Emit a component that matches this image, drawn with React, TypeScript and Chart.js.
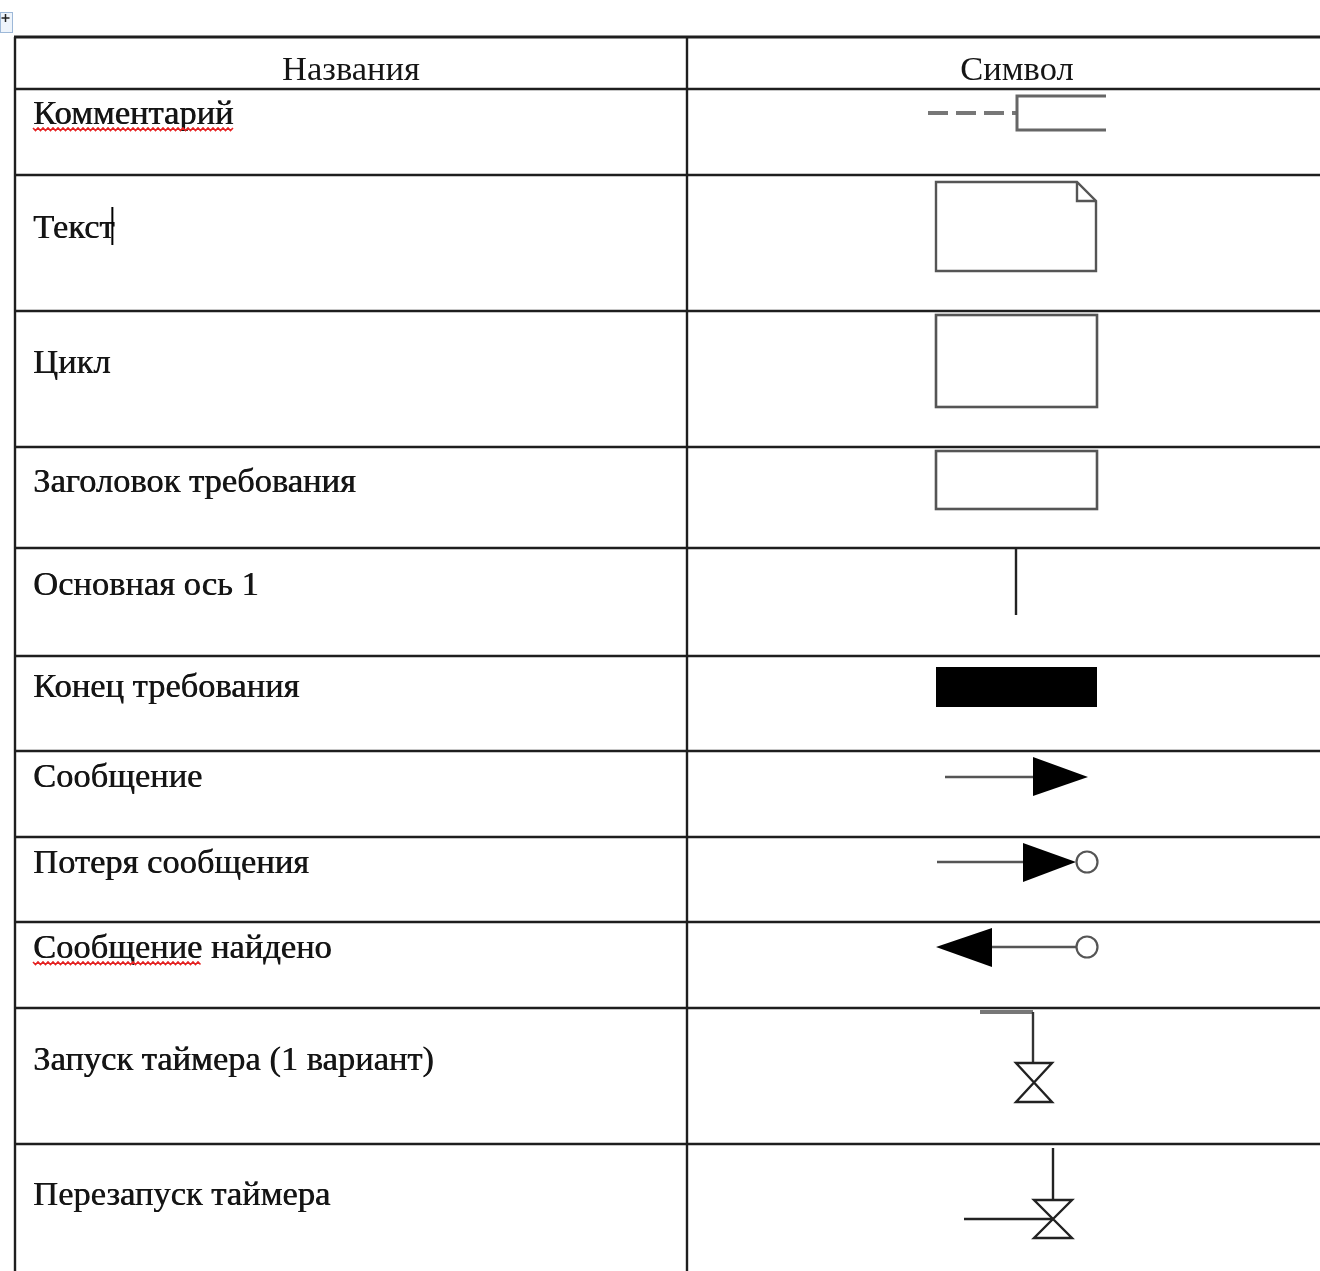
import React, { useEffect, useRef } from "react";
import { Chart, registerables } from "chart.js";

Chart.register(...registerables);

// ---- data ----
const WIDTH = 1320;
const HEIGHT = 1271;
const columnEdges = [15, 687, 1347];
const rowEdges = [37, 89, 175, 311, 447, 548, 656, 751, 837, 922, 1008, 1144, 1300];
const headers = ["Названия", "Символ"];
const headerBaseline = 80;
const rowNames = [
  "Комментарий",
  "Текст",
  "Цикл",
  "Заголовок требования",
  "Основная ось 1",
  "Конец требования",
  "Сообщение",
  "Потеря сообщения",
  "Сообщение найдено",
  "Запуск таймера (1 вариант)",
  "Перезапуск таймера",
];
const rowBaselines = [124, 238, 373, 492, 595, 697, 787, 873, 958, 1070, 1205];
const symbolKinds = [
  "comment",
  "note",
  "cycle",
  "header",
  "axis",
  "end",
  "message",
  "lost",
  "found",
  "timerStart",
  "timerRestart",
];
// spell-check underlines: [row index, number of leading characters]
const spellMarks: [number, number][] = [
  [0, 11],
  [8, 9],
];
const cursorRow = 1;

type Prim =
  | { t: "line"; pts: number[][]; dash?: number[]; w?: number; color?: string; close?: boolean }
  | { t: "poly"; pts: number[][]; fill: boolean }
  | { t: "rect"; x: number; y: number; w: number; h: number; fill?: boolean }
  | { t: "circle"; x: number; y: number; r: number };

const symbolShapes: Record<string, Prim[]> = {
  comment: [
    { t: "line", pts: [[928, 113], [1017, 113]], dash: [20, 8], w: 4, color: "#777" },
    { t: "line", pts: [[1106, 96], [1017, 96], [1017, 130], [1106, 130]], w: 3, color: "#666" },
  ],
  note: [
    { t: "line", pts: [[936, 182], [1077, 182], [1096, 201], [1096, 271], [936, 271]], close: true },
    { t: "line", pts: [[1077, 182], [1077, 201], [1096, 201]] },
  ],
  cycle: [{ t: "rect", x: 936, y: 315, w: 161, h: 92 }],
  header: [{ t: "rect", x: 936, y: 451, w: 161, h: 58 }],
  axis: [{ t: "line", pts: [[1016, 549], [1016, 615]], color: "#222" }],
  end: [{ t: "rect", x: 936, y: 667, w: 161, h: 40, fill: true }],
  message: [
    { t: "line", pts: [[945, 777], [1034, 777]], w: 2.6 },
    { t: "poly", pts: [[1033, 757], [1088, 777], [1033, 796]], fill: true },
  ],
  lost: [
    { t: "line", pts: [[937, 862], [1024, 862]], w: 2.6 },
    { t: "poly", pts: [[1023, 843], [1076, 862], [1023, 882]], fill: true },
    { t: "circle", x: 1087, y: 862, r: 10.5 },
  ],
  found: [
    { t: "poly", pts: [[936, 947], [992, 928], [992, 967]], fill: true },
    { t: "line", pts: [[992, 947], [1076, 947]], w: 2.6 },
    { t: "circle", x: 1087, y: 947, r: 10.5 },
  ],
  timerStart: [
    { t: "line", pts: [[980, 1012], [1033, 1012]], w: 4, color: "#777" },
    { t: "line", pts: [[1033, 1012], [1033, 1063]], color: "#333" },
    { t: "line", pts: [[1016, 1063], [1052, 1063], [1016, 1102], [1052, 1102]], close: true, color: "#222" },
  ],
  timerRestart: [
    { t: "line", pts: [[1053, 1148], [1053, 1200]], color: "#222" },
    { t: "line", pts: [[1034, 1200], [1072, 1200], [1034, 1238], [1072, 1238]], close: true, color: "#222" },
    { t: "line", pts: [[964, 1219], [1053, 1219]], color: "#222" },
  ],
};

const TEXT_FONT = '34.5px "Liberation Serif", "Times New Roman", serif';
const TEXT_COLOR = "#151515";
const TABLE_COLOR = "#1e1e1e";
const SYMBOL_COLOR = "#555";

const tablePlugin = {
  id: "tablePlugin",
  afterDraw(chart: any) {
    const ctx: CanvasRenderingContext2D = chart.ctx;
    const xs = chart.scales.x;
    const ys = chart.scales.y;
    const X = (v: number) => xs.getPixelForValue(v);
    const Y = (v: number) => ys.getPixelForValue(v);

    ctx.save();
    ctx.fillStyle = "#fff";
    ctx.fillRect(0, 0, chart.width, chart.height);

    // move handle
    ctx.fillStyle = "#eef4fb";
    ctx.strokeStyle = "#9db8d8";
    ctx.lineWidth = 1;
    ctx.fillRect(X(0), Y(12), 13, 21);
    ctx.strokeRect(X(0) + 0.5, Y(12) + 0.5, 12, 20);
    ctx.strokeStyle = "#222";
    ctx.lineWidth = 1.5;
    ctx.beginPath();
    ctx.moveTo(X(1.5), Y(18));
    ctx.lineTo(X(9.5), Y(18));
    ctx.moveTo(X(5.5), Y(14));
    ctx.lineTo(X(5.5), Y(22));
    ctx.stroke();

    // table grid
    ctx.strokeStyle = TABLE_COLOR;
    ctx.lineCap = "butt";
    rowEdges.forEach((r, i) => {
      ctx.lineWidth = i === 0 ? 3 : 2.4;
      ctx.beginPath();
      ctx.moveTo(X(columnEdges[0] - 1), Y(r));
      ctx.lineTo(X(columnEdges[columnEdges.length - 1]), Y(r));
      ctx.stroke();
    });
    ctx.lineWidth = 2.4;
    columnEdges.forEach((c) => {
      ctx.beginPath();
      ctx.moveTo(X(c), Y(rowEdges[0]));
      ctx.lineTo(X(c), Y(rowEdges[rowEdges.length - 1]));
      ctx.stroke();
    });

    // text
    ctx.font = TEXT_FONT;
    ctx.fillStyle = TEXT_COLOR;
    ctx.textBaseline = "alphabetic";
    ctx.textAlign = "center";
    headers.forEach((h, i) => {
      const cx = (columnEdges[i] + columnEdges[i + 1]) / 2;
      ctx.fillText(h, X(cx), Y(headerBaseline));
    });
    ctx.textAlign = "left";
    const textX = columnEdges[0] + 18;
    rowNames.forEach((n, i) => {
      ctx.fillText(n, X(textX), Y(rowBaselines[i]));
      ctx.fillText(n, X(textX) + 0.6, Y(rowBaselines[i]));
    });

    // spell-check wavy underline
    ctx.strokeStyle = "#e52222";
    ctx.lineWidth = 1.6;
    spellMarks.forEach(([ri, nChars]) => {
      const w = ctx.measureText(rowNames[ri].slice(0, nChars)).width;
      const y0 = Y(rowBaselines[ri] + 4);
      ctx.beginPath();
      let k = 0;
      for (let x = X(textX); x <= X(textX) + w; x += 2.5, k++) {
        const yy = y0 + (k % 2 === 0 ? 0 : 2.5);
        if (k === 0) ctx.moveTo(x, yy);
        else ctx.lineTo(x, yy);
      }
      ctx.stroke();
    });

    // text cursor
    {
      const w = ctx.measureText(rowNames[cursorRow]).width;
      ctx.strokeStyle = "#000";
      ctx.lineWidth = 2;
      ctx.beginPath();
      ctx.moveTo(X(textX) + w - 2, Y(rowBaselines[cursorRow] - 31));
      ctx.lineTo(X(textX) + w - 2, Y(rowBaselines[cursorRow] + 7));
      ctx.stroke();
    }

    // symbols
    symbolKinds.forEach((kind) => {
      const prims = symbolShapes[kind] || [];
      prims.forEach((p) => {
        ctx.setLineDash([]);
        ctx.lineJoin = "miter";
        if (p.t === "line") {
          ctx.strokeStyle = p.color || SYMBOL_COLOR;
          ctx.lineWidth = p.w || 2.4;
          if (p.dash) ctx.setLineDash(p.dash);
          ctx.beginPath();
          p.pts.forEach((pt, j) => (j === 0 ? ctx.moveTo(X(pt[0]), Y(pt[1])) : ctx.lineTo(X(pt[0]), Y(pt[1]))));
          if (p.close) ctx.closePath();
          ctx.stroke();
        } else if (p.t === "poly") {
          ctx.fillStyle = "#000";
          ctx.beginPath();
          p.pts.forEach((pt, j) => (j === 0 ? ctx.moveTo(X(pt[0]), Y(pt[1])) : ctx.lineTo(X(pt[0]), Y(pt[1]))));
          ctx.closePath();
          ctx.fill();
        } else if (p.t === "rect") {
          if (p.fill) {
            ctx.fillStyle = "#000";
            ctx.fillRect(X(p.x), Y(p.y), X(p.x + p.w) - X(p.x), Y(p.y + p.h) - Y(p.y));
          } else {
            ctx.strokeStyle = SYMBOL_COLOR;
            ctx.lineWidth = 2.6;
            ctx.strokeRect(X(p.x), Y(p.y), X(p.x + p.w) - X(p.x), Y(p.y + p.h) - Y(p.y));
          }
        } else if (p.t === "circle") {
          ctx.strokeStyle = SYMBOL_COLOR;
          ctx.lineWidth = 2.2;
          ctx.fillStyle = "#fff";
          ctx.beginPath();
          ctx.arc(X(p.x), Y(p.y), p.r, 0, Math.PI * 2);
          ctx.fill();
          ctx.stroke();
        }
      });
    });
    ctx.restore();
  },
};

export default function App() {
  const canvasRef = useRef<HTMLCanvasElement | null>(null);
  useEffect(() => {
    if (!canvasRef.current) return;
    const chart = new Chart(canvasRef.current, {
      type: "scatter",
      data: { datasets: [{ data: [], pointRadius: 0 }] },
      options: {
        animation: false,
        responsive: false,
        devicePixelRatio: 1,
        layout: { padding: 0 },
        plugins: { legend: { display: false }, tooltip: { enabled: false } },
        scales: {
          x: { type: "linear", min: 0, max: WIDTH, display: false },
          y: { type: "linear", min: 0, max: HEIGHT, reverse: true, display: false },
        },
      },
      plugins: [tablePlugin],
    });
    return () => chart.destroy();
  }, []);
  return (
    <div style={{ position: "absolute", left: 0, top: 0, width: WIDTH, height: HEIGHT, background: "#fff" }}>
      <canvas ref={canvasRef} width={WIDTH} height={HEIGHT} style={{ display: "block" }} />
    </div>
  );
}
